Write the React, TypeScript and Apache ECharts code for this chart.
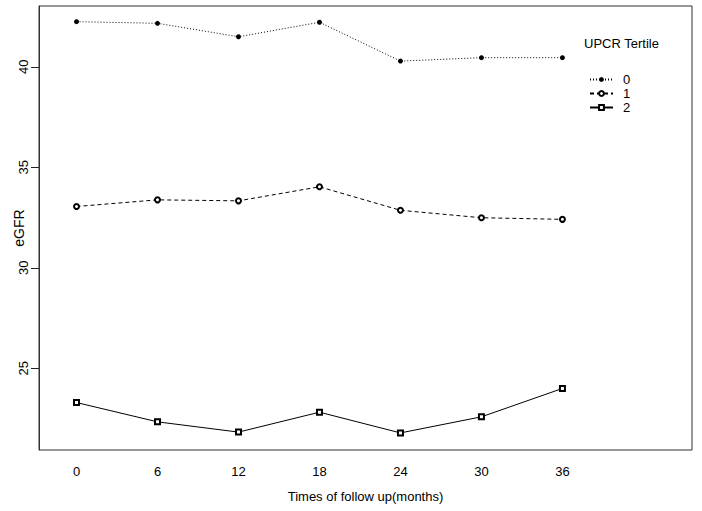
import React, { useEffect, useRef } from "react";
import * as echarts from "echarts";

const months = [0, 6, 12, 18, 24, 30, 36];
const tertile0 = [42.24, 42.16, 41.49, 42.21, 40.28, 40.45, 40.45];
const tertile1 = [33.05, 33.38, 33.33, 34.03, 32.86, 32.49, 32.41];
const tertile2 = [23.3, 22.34, 21.83, 22.82, 21.79, 22.59, 24.0];
const yTicks = [25, 30, 35, 40];
const seriesNames = ["0", "1", "2"];

const FONT = "'Liberation Sans', Arial, sans-serif";
const X_MIN = -2.78;
const X_MAX = 45.6;

export default function App() {
  const ref = useRef<HTMLDivElement>(null);
  useEffect(() => {
    if (!ref.current) return;
    const chart = echarts.init(ref.current, undefined, { renderer: "svg" });
    const pairs = (vals: number[]) => months.map((m, i) => [m, vals[i]]);
    chart.setOption({
      animation: false,
      backgroundColor: "#ffffff",
      textStyle: { fontFamily: FONT, color: "#000" },
      grid: {
        left: 39,
        top: 6,
        right: 10,
        bottom: 61,
        containLabel: false,
        outerBoundsMode: "none",
        show: true,
        borderColor: "#333",
        borderWidth: 1,
        backgroundColor: "transparent",
      },
      xAxis: {
        type: "value",
        min: X_MIN,
        max: X_MAX,
        name: "Times of follow up(months)",
        nameLocation: "middle",
        nameGap: 40,
        nameMoveOverlap: false,
        nameTextStyle: { fontSize: 13, color: "#000", fontFamily: FONT },
        axisLine: { show: false, onZero: false },
        axisTick: { show: false },
        splitLine: { show: false },
        axisLabel: {
          customValues: months,
          fontSize: 13,
          color: "#000",
          margin: 15,
          fontFamily: FONT,
        },
      },
      yAxis: {
        type: "value",
        min: 20.94,
        max: 43.02,
        position: "left",
        name: "eGFR",
        nameLocation: "middle",
        nameRotate: 90,
        nameGap: 13,
        nameMoveOverlap: false,
        nameTextStyle: { fontSize: 14, color: "#000", fontFamily: FONT },
        axisLine: { show: true, onZero: false, lineStyle: { color: "#333", width: 1 } },
        splitLine: { show: false },
        axisTick: { show: false },
        axisLabel: {
          customValues: yTicks,
          rotate: 90,
          fontSize: 13,
          color: "#000",
          margin: 9,
          fontFamily: FONT,
        },
      },
      legend: {
        orient: "vertical",
        left: 589,
        top: 73,
        itemWidth: 23,
        itemHeight: 6,
        itemGap: 1,
        padding: 0,
        data: seriesNames,
        textStyle: {
          fontSize: 13,
          lineHeight: 12,
          color: "#000",
          fontFamily: FONT,
          padding: [0, 0, 0, 5],
        },
      },
      series: [
        {
          name: seriesNames[0],
          type: "line",
          data: pairs(tertile0),
          symbol: "circle",
          symbolSize: 5,
          itemStyle: { color: "#000" },
          lineStyle: { color: "#000", width: 1, type: [1, 2] },
        },
        {
          name: seriesNames[1],
          type: "line",
          data: pairs(tertile1),
          symbol: "emptyCircle",
          symbolSize: 5,
          itemStyle: { color: "#000", borderWidth: 1 },
          lineStyle: { color: "#000", width: 1, type: [4, 3] },
        },
        {
          name: seriesNames[2],
          type: "line",
          data: pairs(tertile2),
          symbol: "emptyRect",
          symbolSize: 5,
          itemStyle: { color: "#000", borderWidth: 1 },
          lineStyle: { color: "#000", width: 1, type: "solid" },
        },
      ],
    });

    // y-axis tick marks placed through the library's own scales
    const axisX = chart.convertToPixel({ xAxisIndex: 0 }, X_MIN) as number;
    const tickLines = yTicks.map((v) => {
      const py = Math.round(chart.convertToPixel({ yAxisIndex: 0 }, v) as number) + 0.5;
      return {
        type: "line",
        z: 100,
        shape: { x1: axisX - 8, y1: py, x2: axisX, y2: py },
        style: { stroke: "#222", lineWidth: 1 },
        silent: true,
      };
    });
    chart.setOption({
      graphic: [
        {
          type: "text",
          left: 584,
          top: 37,
          style: {
            text: "UPCR Tertile",
            fontSize: 13,
            fontFamily: FONT,
            fill: "#000",
          },
        },
        ...tickLines,
      ],
    });
    return () => chart.dispose();
  }, []);
  return (
    <div
      ref={ref}
      style={{ position: "fixed", left: 0, top: 0, width: 702, height: 511 }}
    />
  );
}
